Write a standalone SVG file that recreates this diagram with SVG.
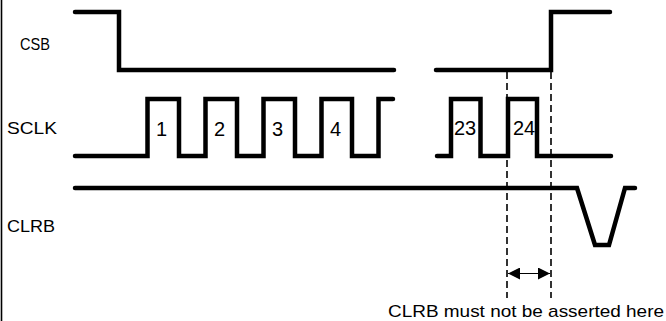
<svg xmlns="http://www.w3.org/2000/svg" width="666" height="321" viewBox="0 0 666 321">
<style>
.sig{fill:none;stroke:#000;stroke-width:4.5;stroke-linecap:round;stroke-linejoin:miter}
.dash{fill:none;stroke:#000;stroke-width:1.6;stroke-dasharray:7,4}
.lbl{font-family:"Liberation Sans",Arial,sans-serif;font-size:17px;fill:#000}
.num{font-family:"Liberation Sans",Arial,sans-serif;font-size:20px;fill:#000;text-anchor:middle}
</style>
<defs>
<marker id="ah" viewBox="0 0 12 12" refX="12" refY="6" markerWidth="12" markerHeight="12" markerUnits="userSpaceOnUse" orient="auto-start-reverse">
<path d="M0,0 L12,6 L0,12 Z" fill="#000"/>
</marker>
</defs>
<rect width="666" height="321" fill="#fff"/>
<line x1="1.5" y1="0" x2="1.5" y2="321" stroke="#000" stroke-width="1.6"/>
<g id="labels">
<text class="lbl" x="20" y="50" textLength="30" lengthAdjust="spacingAndGlyphs">CSB</text>
<text class="lbl" x="7" y="134" textLength="50" lengthAdjust="spacingAndGlyphs">SCLK</text>
<text class="lbl" x="7" y="232" textLength="48" lengthAdjust="spacingAndGlyphs">CLRB</text>
</g>
<g id="csb">
<polyline class="sig" points="75,12 119,12 119,70 394,70"/>
<polyline class="sig" points="436,70 551,70 551,12 610,12"/>
</g>
<g id="sclk">
<polyline class="sig" points="75,156 147.5,156 147.5,99 179,99 179,156 205.5,156 205.5,99 237,99 237,156 263.5,156 263.5,99 295,99 295,156 321.5,156 321.5,99 352,99 352,156 378.5,156 378.5,99 393,99"/>
<polyline class="sig" points="437,156 451,156 451,99 480.5,99 480.5,156 508,156 508,99 537,99 537,156 611,156"/>
<text class="num" x="161.5" y="136">1</text>
<text class="num" x="219.5" y="136">2</text>
<text class="num" x="277.5" y="136">3</text>
<text class="num" x="335.5" y="136">4</text>
<text class="num" x="465" y="135">23</text>
<text class="num" x="524" y="135">24</text>
</g>
<g id="clrb">
<polyline class="sig" points="75,188 577,188 595,245 609,245 625,188 635,188"/>
</g>
<g id="connectors">
<line class="dash" x1="507" y1="72" x2="507" y2="298"/>
<line class="dash" x1="551" y1="72" x2="551" y2="298"/>
<line x1="508" y1="273.5" x2="550" y2="273.5" stroke="#000" stroke-width="1.2" marker-start="url(#ah)" marker-end="url(#ah)"/>
</g>
<g id="note">
<text class="lbl" x="388" y="317" textLength="276" lengthAdjust="spacingAndGlyphs">CLRB must not be asserted here</text>
</g>
</svg>
